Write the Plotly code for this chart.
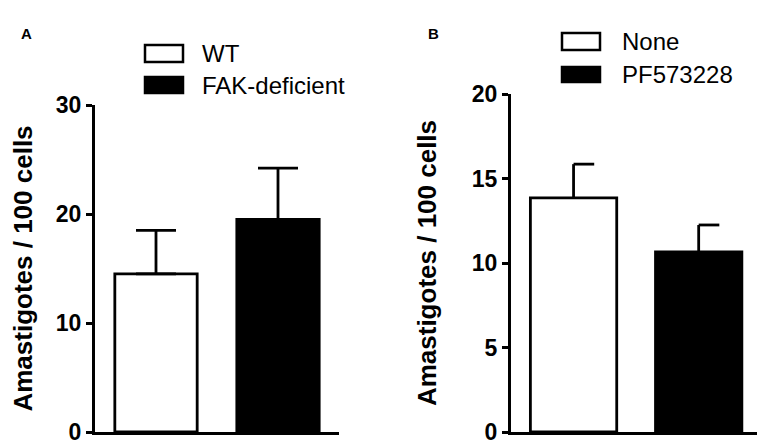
import plotly.graph_objects as go

W, H = 765, 444
PAD = 8  # page body margin in the browser

# panel A
groups_a = ["WT", "FAK-deficient"]
mean_a = [14.5, 19.5]
sem_a = [4.0, 4.7]

# panel B
groups_b = ["None", "PF573228"]
mean_b = [13.85, 10.65]
sem_b = [2.0, 1.6]

fills = ["white", "black"]
ytitle = "Amastigotes / 100 cells"
font = "Arial, Liberation Sans, sans-serif"


# page pixel -> paper fraction
def px(x):
    return (x - PAD) / W


def py(y):
    return 1 - (y - PAD) / H


fig = go.Figure()

# bars with upward error stems (panel A: symmetric caps)
fig.add_trace(go.Bar(
    x=list(range(len(groups_a))), y=mean_a, width=0.675,
    marker=dict(color=fills, line=dict(color="black", width=2.8)),
    error_y=dict(type="data", array=sem_a, arrayminus=[0] * len(sem_a),
                 symmetric=False, color="black", thickness=2.8, width=20),
    hovertext=groups_a, showlegend=False, xaxis="x", yaxis="y"))

# panel B: stems only, caps drawn one-sided to the right like the original
fig.add_trace(go.Bar(
    x=list(range(len(groups_b))), y=mean_b, width=0.69,
    marker=dict(color=fills, line=dict(color="black", width=2.8)),
    error_y=dict(type="data", array=sem_b, arrayminus=[0] * len(sem_b),
                 symmetric=False, color="black", thickness=2.8, width=0),
    hovertext=groups_b, showlegend=False, xaxis="x2", yaxis="y2"))

cap = 0.165
for i, (m, s) in enumerate(zip(mean_b, sem_b)):
    fig.add_trace(go.Scatter(
        x=[i, i + cap], y=[m + s, m + s], mode="lines",
        line=dict(color="black", width=2.8), hoverinfo="skip",
        showlegend=False, xaxis="x2", yaxis="y2"))

xcommon = dict(showline=True, linecolor="black", linewidth=3, ticks="",
               showticklabels=False, showgrid=False, zeroline=False,
               fixedrange=True, automargin=False)
ycommon = dict(showline=True, linecolor="black", linewidth=3, ticks="outside",
               ticklen=6, tickwidth=3, tickcolor="black", showgrid=False,
               zeroline=False, automargin=False,
               tickfont=dict(family=font, size=23, color="black", weight="bold"))
title_font = dict(family=font, size=26, color="black", weight="bold")

fig.update_layout(
    width=W, height=H,
    margin=dict(l=0, r=0, t=0, b=0),
    paper_bgcolor="white", plot_bgcolor="white",
    xaxis=dict(xcommon, domain=[px(95), px(339)], range=[-0.5, 1.5], anchor="y"),
    yaxis=dict(ycommon, domain=[py(432), py(105)], range=[0, 30], dtick=10,
               anchor="x",
               title=dict(text=ytitle, standoff=32, font=title_font)),
    xaxis2=dict(xcommon, domain=[px(511), px(765)], range=[-0.5, 1.53],
                anchor="y2"),
    yaxis2=dict(ycommon, domain=[py(432), py(94)], range=[0, 20], dtick=5,
                anchor="x2",
                title=dict(text=ytitle, standoff=28, font=title_font)),
)

# legend boxes and text
shapes = []
annotations = []
legend_rows = [
    (groups_a, 145, 183, [(45, 62), (77, 93)], 200),
    (groups_b, 562, 600, [(33, 50), (67, 82)], 620),
]
for names, x0, x1, rows, tx in legend_rows:
    for name, fill, (y0, y1) in zip(names, fills, rows):
        shapes.append(dict(type="rect", xref="paper", yref="paper",
                           x0=px(x0), x1=px(x1), y0=py(y1), y1=py(y0),
                           fillcolor=fill, line=dict(color="black", width=2.5)))
        annotations.append(dict(text=name, xref="paper", yref="paper",
                                x=px(tx), y=py((y0 + y1) / 2), xanchor="left",
                                yanchor="middle", showarrow=False,
                                font=dict(family=font, size=24, color="black")))

for label, x in [("A", 19), ("B", 433)]:
    annotations.append(dict(text=label, xref="paper", yref="paper",
                            x=px(x), y=py(23), showarrow=False,
                            font=dict(family=font, size=15, color="black",
                                      weight="bold")))

fig.update_layout(shapes=shapes, annotations=annotations)

fig.write_html("out.html")
